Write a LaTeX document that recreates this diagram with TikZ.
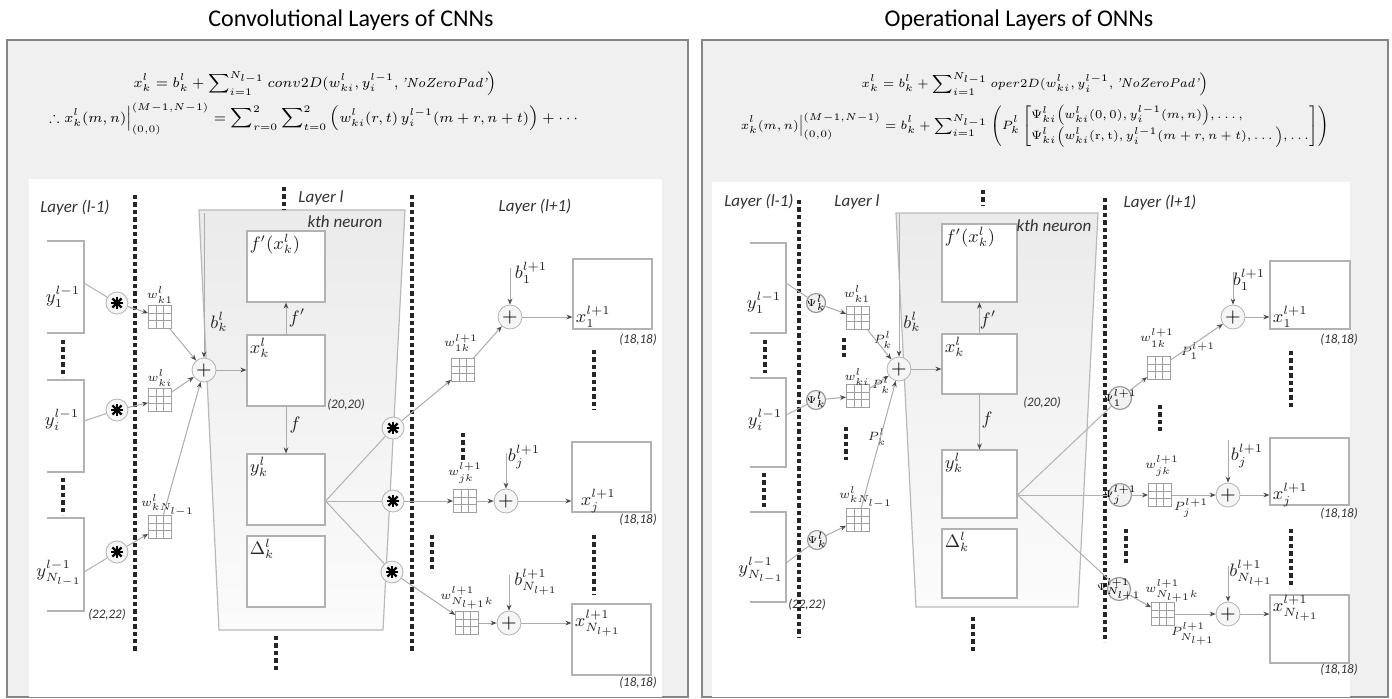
\documentclass[tikz,border=0pt]{standalone}
\usepackage{amsmath}
\usepackage{amssymb}
\usepackage{fontspec}
\usetikzlibrary{arrows.meta,calc}
\newfontfamily\calib{Carlito}

\tikzset{
  panel/.style={draw=gray!95, line width=0.7pt, fill=gray!12},
  neuron/.style={draw=gray!55, line width=0.6pt, top color=gray!16, bottom color=gray!3},
  fmap/.style={draw=gray!60, line width=0.6pt, fill=white, inner sep=0pt},
  openbox/.style={draw=gray!60, line width=0.6pt},
  kern/.style={draw=gray!75, fill=white, line width=0.45pt, minimum size=11.5pt, inner sep=0pt,
    path picture={\foreach \t in {1,2}{
      \draw[gray!75, line width=0.4pt]
        ($(path picture bounding box.south west)!\t/3!(path picture bounding box.south east)$) --
        ($(path picture bounding box.north west)!\t/3!(path picture bounding box.north east)$)
        ($(path picture bounding box.south west)!\t/3!(path picture bounding box.north west)$) --
        ($(path picture bounding box.south east)!\t/3!(path picture bounding box.north east)$);}}},
  conv/.style={circle, draw=gray!60, fill=gray!8, minimum size=11pt, inner sep=0pt,
    path picture={\foreach \a in {0,45,90,135}{
      \draw[black, line width=1.1pt] (path picture bounding box.center) ++(\a:3.2pt) -- ++(\a+180:6.4pt);}}},
  addnode/.style={circle, draw=gray!60, fill=gray!8, minimum size=12pt, inner sep=0pt, font=\fontsize{10}{10}\selectfont},
  psi/.style={circle, draw=gray!80, line width=0.6pt, fill=gray!10, minimum size=9.5pt, inner sep=0pt, font=\fontsize{4.3}{5}\selectfont},
  psinext/.style={psi, minimum size=11.5pt, font=\fontsize{3.8}{4}\selectfont},
  divider/.style={line width=1.6pt, dash pattern=on 2.2pt off 1.5pt, black!85},
  layerlbl/.style={font=\calib\itshape\fontsize{8.5}{10}\selectfont, text=black!80},
  dims/.style={font=\calib\itshape\fontsize{6.5}{7}\selectfont, text=black!80},
  lbl/.style={font=\fontsize{9}{10}\selectfont, inner sep=1.5pt, text=black!85},
  wlbl/.style={font=\fontsize{6.5}{7}\selectfont, inner sep=0.5pt, text=black!85},
  plbl/.style={font=\fontsize{6}{7}\selectfont, inner sep=0.5pt, text=black!85},
  eqn/.style={font=\fontsize{6.6}{8}\selectfont},
  arr/.style={draw=gray!65, line width=0.5pt, -{Stealth[length=3pt,width=2.4pt,color=black!70]}},
  link/.style={draw=gray!60, line width=0.5pt},
}

\begin{document}
\begin{tikzpicture}[x=0.5pt, y=-0.5pt]
  \useasboundingbox (0,0) rectangle (1392,698);

  % ---------------- CNN panel
  \node[font=\calib\fontsize{12}{14}\selectfont] (tc) at (351,20) {Convolutional Layers of CNNs};
  \draw[panel] (7,40) rectangle (688,697);
  \fill[white] (29,179) rectangle (662,697);
  \node[eqn] (ec1) at (315,84) {$\displaystyle x_k^l = b_k^l + \sum\nolimits_{i=1}^{N_{l-1}} conv2D(w_{ki}^l, y_i^{l-1}, \textit{'NoZeroPad'}\Big)$};
  \node[eqn, font=\fontsize{6.9}{8}\selectfont] (ec2) at (315,119) {$\displaystyle \therefore x_k^l(m,n)\Big|_{(0,0)}^{(M-1,N-1)} = \sum\nolimits_{r=0}^{2}\sum\nolimits_{t=0}^{2}\Big(w_{ki}^l(r,t)\,y_i^{l-1}(m+r,n+t)\Big)+\cdots$};

  \draw[neuron] (199,210) -- (405,210) -- (383,630) -- (219,630) -- cycle;
  \draw[divider] (135,195) -- (135,652);
  \draw[divider] (412,195) -- (412,652);
  \draw[divider] (284,187) -- (284,210);
  \draw[divider] (276,636) -- (276,670);
  \draw[divider] (63,340) -- (63,377);
  \draw[divider] (63,478) -- (63,515);
  \draw[divider] (463,433) -- (463,460);
  \draw[divider] (432,535) -- (432,572);
  \draw[divider] (594,350) -- (594,410);
  \draw[divider] (594,535) -- (594,595);

  \node[layerlbl] (la) at (75,208) {Layer (l-1)};
  \node[layerlbl] (lb) at (321,198) {Layer l};
  \node[layerlbl] (lc) at (345,222) {kth neuron};
  \node[layerlbl] (ld) at (535,207) {Layer (l+1)};

  % inputs
  \draw[openbox] (47,241) -| (84,333) -- (47,333);
  \draw[openbox] (47,380) -| (84,472) -- (47,472);
  \draw[openbox] (47,518) -| (84,611) -- (47,611);
  \coordinate (a1) at (84,283);
  \coordinate (a2) at (84,421);
  \coordinate (a3) at (84,572);
  \node[lbl] (ya1) at (63,297) {$y_1^{l-1}$};
  \node[lbl] (ya2) at (62,420) {$y_i^{l-1}$};
  \node[lbl] (ya3) at (59,573) {$y_{N_{l-1}}^{l-1}$};
  \node[dims] (da) at (107,615) {(22,22)};

  \node[conv] (s1) at (117,303) {};
  \node[conv] (s2) at (117,410) {};
  \node[conv] (s3) at (117,552) {};
  \node[kern] (k1) at (160,317) {};
  \node[kern] (k2) at (160,400) {};
  \node[kern] (k3) at (160,527) {};
  \node[wlbl] (wk1) at (160,295) {$w_{k1}^l$};
  \node[wlbl] (wk2) at (160,378) {$w_{ki}^l$};
  \node[wlbl] (wk3) at (168,505) {$w_{kN_{l-1}}^l$};
  \node[addnode] (sum) at (204,370) {$+$};
  \coordinate (bk) at (204,213);
  \node[lbl] (lbk) at (219,322) {$b_k^l$};

  % kth neuron
  \node[fmap, minimum width=39pt, minimum height=35.5pt, label={[lbl,anchor=north west]north west:$f'(x_k^l)$}] (fp) at (286,266.5) {};
  \node[fmap, minimum width=39pt, minimum height=35.5pt, label={[lbl,anchor=north west]north west:$x_k^l$}] (xk) at (286,370.5) {};
  \node[fmap, minimum width=39pt, minimum height=35.5pt, label={[lbl,anchor=north west]north west:$y_k^l$}] (yk) at (286,489.5) {};
  \node[fmap, minimum width=39pt, minimum height=35.5pt, label={[lbl,anchor=north west]north west:$\Delta_k^l$}] (dk) at (286,571.5) {};
  \node[lbl] (lfp) at (297,318) {$f'$};
  \node[lbl] (lf) at (295,425) {$f$};
  \node[dims] (db) at (346,405) {(20,20)};

  \draw[link] (a1) -- (s1);
  \draw[link] (a2) -- (s2);
  \draw[link] (a3) -- (s3);
  \draw[arr] (s1) -- (k1);
  \draw[arr] (s2) -- (k2);
  \draw[arr] (s3) -- (k3);
  \draw[arr] (k1) -- (sum);
  \draw[arr] (k2) -- (sum);
  \draw[arr] (k3) -- (sum);
  \draw[arr] (bk) -- (sum);
  \draw[arr] (sum) -- (sum -| xk.west);
  \draw[arr] (xk) -- (fp);
  \draw[arr] (xk) -- (yk);

  % layer l+1
  \node[conv] (t1) at (393,428) {};
  \node[conv] (t2) at (393,501) {};
  \node[conv] (t3) at (392,572) {};
  \coordinate (yo) at (yk.east |- t2);
  \draw[link] (yo) -- (t1);
  \draw[link] (yo) -- (t2);
  \draw[link] (yo) -- (t3);
  \node[kern] (q1) at (463,370) {};
  \node[kern] (q2) at (465,501) {};
  \node[kern] (q3) at (467,623) {};
  \node[plbl] (wq1) at (461,343) {$w_{1k}^{l+1}$};
  \node[wlbl] (wq2) at (465,473) {$w_{jk}^{l+1}$};
  \node[plbl] (wq3) at (467,598) {$w_{N_{l+1}k}^{l+1}$};
  \node[addnode] (r1) at (510,317) {$+$};
  \node[addnode] (r2) at (506,501) {$+$};
  \node[addnode] (r3) at (509,623) {$+$};
  \coordinate (c1) at (510,268);
  \coordinate (c2) at (506,453);
  \coordinate (c3) at (509,575);
  \node[lbl] (lc1) at (531,273) {$b_1^{l+1}$};
  \node[lbl] (lc2) at (524,457) {$b_j^{l+1}$};
  \node[lbl] (lc3) at (536,582) {$b_{N_{l+1}}^{l+1}$};
  \node[fmap, minimum width=39.5pt, minimum height=35pt] (o1) at (612.5,294) {};
  \node[fmap, minimum width=39.5pt, minimum height=35pt] (o2) at (611.5,477) {};
  \node[fmap, minimum width=39.5pt, minimum height=35.5pt] (o3) at (611.5,639.5) {};
  \node[dims] (do1) at (638,340) {(18,18)};
  \node[dims] (do2) at (638,520) {(18,18)};
  \node[dims] (do3) at (638,683) {(18,18)};

  \draw[arr] (t1) -- (q1);
  \draw[arr] (t2) -- (q2);
  \draw[arr] (t3) -- (q3);
  \draw[arr] (q1) -- (r1);
  \draw[arr] (q2) -- (r2);
  \draw[arr] (q3) -- (r3);
  \draw[arr] (c1) -- (r1);
  \draw[arr] (c2) -- (r2);
  \draw[arr] (c3) -- (r3);
  \draw[arr] (r1) -- (r1 -| o1.west);
  \draw[arr] (r2) -- (r2 -| o2.west);
  \draw[arr] (r3) -- (r3 -| o3.west);
  \node[lbl, anchor=west] (xo1) at (r1 -| o1.west) {$x_1^{l+1}$};
  \node[lbl, anchor=west] (xo2) at ([xshift=3pt]r2 -| o2.west) {$x_j^{l+1}$};
  \node[lbl, anchor=west] (xo3) at (r3 -| o3.west) {$x_{N_{l+1}}^{l+1}$};

  % ---------------- ONN panel
  \node[font=\calib\fontsize{12}{14}\selectfont] (to) at (1019,20) {Operational Layers of ONNs};
  \draw[panel] (702,40) rectangle (1388,697);
  \fill[white] (712,182) rectangle (1350,697);
  \node[eqn, font=\fontsize{6.4}{8}\selectfont] (eo1) at (1035,84) {$\displaystyle x_k^l = b_k^l + \sum\nolimits_{i=1}^{N_{l-1}} oper2D(w_{ki}^l, y_i^{l-1}, \textit{'NoZeroPad'}\Big)$};
  \node[eqn, font=\fontsize{5.7}{7}\selectfont] (eo2) at (1035,126) {$\displaystyle x_k^l(m,n)\Big|_{(0,0)}^{(M-1,N-1)} = b_k^l + \sum\nolimits_{i=1}^{N_{l-1}}\left(P_k^l\left[\begin{array}{@{}l@{}}\Psi_{ki}^l\Big(w_{ki}^l(0,0),y_i^{l-1}(m,n)\Big),\ldots,\\ \Psi_{ki}^l\Big(w_{ki}^l(\mathrm{r},\mathrm{t}),y_i^{l-1}(m+r,n+t),\ldots\Big),\ldots\end{array}\right]\right)$};

  \draw[neuron] (896,213) -- (1098,213) -- (1078,607) -- (916,607) -- cycle;
  \draw[divider] (799,200) -- (799,638);
  \draw[divider] (1105,198) -- (1105,642);
  \draw[divider] (983,190) -- (983,205);
  \draw[divider] (973,617) -- (973,652);
  \draw[divider] (765,340) -- (765,373);
  \draw[divider] (764,473) -- (764,508);
  \draw[divider] (844,338) -- (844,360);
  \draw[divider] (846,427) -- (846,460);
  \draw[divider] (1160,405) -- (1160,431);
  \draw[divider] (1126,529) -- (1126,563);
  \draw[divider] (1291,351) -- (1291,407);
  \draw[divider] (1291,529) -- (1291,586);

  \node[layerlbl] (ma) at (759,202) {Layer (l-1)};
  \node[layerlbl] (mb) at (857,202) {Layer l};
  \node[layerlbl] (md) at (1160,203) {Layer (l+1)};

  % inputs
  \draw[openbox] (750,243) -| (786,333) -- (750,333);
  \draw[openbox] (750,378) -| (786,467) -- (750,467);
  \draw[openbox] (750,512) -| (786,602) -- (750,602);
  \coordinate (d1) at (786,283);
  \coordinate (d2) at (786,415);
  \coordinate (d3) at (786,563);
  \node[lbl] (yb1) at (764,303) {$y_1^{l-1}$};
  \node[lbl] (yb2) at (765,420) {$y_i^{l-1}$};
  \node[lbl] (yb3) at (761,570) {$y_{N_{l-1}}^{l-1}$};
  \node[dims] (dc) at (807,605) {(22,22)};

  \node[psi] (p1) at (816,303) {\makebox[0pt]{$\Psi_k^l$}};
  \node[psi] (p2) at (816,400) {\makebox[0pt]{$\Psi_k^l$}};
  \node[psi] (p3) at (817,540) {\makebox[0pt]{$\Psi_k^l$}};
  \node[kern] (g1) at (858,318) {};
  \node[kern] (g2) at (858,396) {};
  \node[kern] (g3) at (858,520) {};
  \node[wlbl] (wg1) at (857,294) {$w_{k1}^l$};
  \node[wlbl] (wg2) at (857,377) {$w_{ki}^l$};
  \node[wlbl] (wg3) at (866,497) {$w_{kN_{l-1}}^l$};
  \node[plbl] (pg1) at (883,340) {$P_k^l$};
  \node[plbl] (pg2) at (881,385) {$P_k^l$};
  \node[plbl] (pg3) at (877,437) {$P_k^l$};
  \node[addnode] (sum2) at (899,369) {$+$};
  \coordinate (bk2) at (899,214);
  \node[lbl] (lbk2) at (912,322) {$b_k^l$};

  % kth neuron
  \node[fmap, minimum width=37.5pt, minimum height=39pt, label={[lbl,anchor=north west]north west:$f'(x_k^l)$}] (fp2) at (979.5,263) {};
  \node[fmap, minimum width=37.5pt, minimum height=30pt, label={[lbl,anchor=north west]north west:$x_k^l$}] (xk2) at (979.5,364) {};
  \node[fmap, minimum width=37.5pt, minimum height=34pt, label={[lbl,anchor=north west]north west:$y_k^l$}] (yk2) at (979.5,484) {};
  \node[fmap, minimum width=37.5pt, minimum height=34.5pt, label={[lbl,anchor=north west]north west:$\Delta_k^l$}] (dk2) at (979.5,563.5) {};
  \node[layerlbl] (mc) at (1054,226) {kth neuron};
  \node[lbl] (lfp2) at (988,320) {$f'$};
  \node[lbl] (lf2) at (987,420) {$f$};
  \node[dims] (dd) at (1042,403) {(20,20)};

  \draw[link] (d1) -- (p1);
  \draw[link] (d2) -- (p2);
  \draw[link] (d3) -- (p3);
  \draw[arr] (p1) -- (g1);
  \draw[arr] (p2) -- (g2);
  \draw[arr] (p3) -- (g3);
  \draw[arr] (g1) -- (sum2);
  \draw[arr] (g2) -- (sum2);
  \draw[arr] (g3) -- (sum2);
  \draw[arr] (bk2) -- (sum2);
  \draw[arr] (sum2) -- (sum2 -| xk2.west);
  \draw[arr] (xk2) -- (fp2);
  \draw[arr] (xk2) -- (yk2);

  % layer l+1
  \node[psinext] (h1) at (1120,398) {\makebox[0pt]{$\Psi_1^{l+1}$}};
  \node[psinext] (h2) at (1120,495) {\makebox[0pt]{$\Psi_j^{l+1}$}};
  \node[psinext, font=\fontsize{3.3}{4}\selectfont] (h3) at (1119,589) {\makebox[0pt]{$\Psi_{N_{l+1}}^{l+1}$}};
  \coordinate (yo2) at (yk2.east |- h2);
  \draw[link] (yo2) -- (h1);
  \draw[link] (yo2) -- (h2);
  \draw[link] (yo2) -- (h3);
  \node[kern] (m1) at (1159,368) {};
  \node[kern] (m2) at (1160,495) {};
  \node[kern] (m3) at (1163,614) {};
  \node[wlbl] (wm1) at (1157,338) {$w_{1k}^{l+1}$};
  \node[wlbl] (wm2) at (1162,466) {$w_{jk}^{l+1}$};
  \node[wlbl] (wm3) at (1172,591) {$w_{N_{l+1}k}^{l+1}$};
  \node[plbl] (pm1) at (1198,351) {$P_1^{l+1}$};
  \node[plbl] (pm2) at (1191,508) {$P_j^{l+1}$};
  \node[plbl] (pm3) at (1193,634) {$P_{N_{l+1}}^{l+1}$};
  \node[addnode] (n1) at (1233,317) {$+$};
  \node[addnode] (n2) at (1228,495) {$+$};
  \node[addnode] (n3) at (1228,614) {$+$};
  \coordinate (e1) at (1233,272);
  \coordinate (e2) at (1228,440);
  \coordinate (e3) at (1228,566);
  \node[lbl] (le1) at (1249,280) {$b_1^{l+1}$};
  \node[lbl] (le2) at (1247,456) {$b_j^{l+1}$};
  \node[lbl] (le3) at (1251,573) {$b_{N_{l+1}}^{l+1}$};
  \node[fmap, minimum width=40pt, minimum height=34pt] (u1) at (1310,295) {};
  \node[fmap, minimum width=39.5pt, minimum height=33.5pt] (u2) at (1309.5,471.5) {};
  \node[fmap, minimum width=39.5pt, minimum height=34pt] (u3) at (1309.5,629) {};
  \node[dims] (du1) at (1339,340) {(18,18)};
  \node[dims] (du2) at (1339,514) {(18,18)};
  \node[dims] (du3) at (1339,670) {(18,18)};

  \draw[arr] (h1) -- (m1);
  \draw[arr] (h2) -- (m2);
  \draw[arr] (h3) -- (m3);
  \draw[arr] (m1) -- (n1);
  \draw[arr] (m2) -- (n2);
  \draw[arr] (m3) -- (n3);
  \draw[arr] (e1) -- (n1);
  \draw[arr] (e2) -- (n2);
  \draw[arr] (e3) -- (n3);
  \draw[arr] (n1) -- (n1 -| u1.west);
  \draw[arr] (n2) -- (n2 -| u2.west);
  \draw[arr] (n3) -- (n3 -| u3.west);
  \node[lbl, anchor=west] (xu1) at (n1 -| u1.west) {$x_1^{l+1}$};
  \node[lbl, anchor=west] (xu2) at (n2 -| u2.west) {$x_j^{l+1}$};
  \node[lbl, anchor=west] (xu3) at ([yshift=3pt]n3 -| u3.west) {$x_{N_{l+1}}^{l+1}$};
\end{tikzpicture}
\end{document}
